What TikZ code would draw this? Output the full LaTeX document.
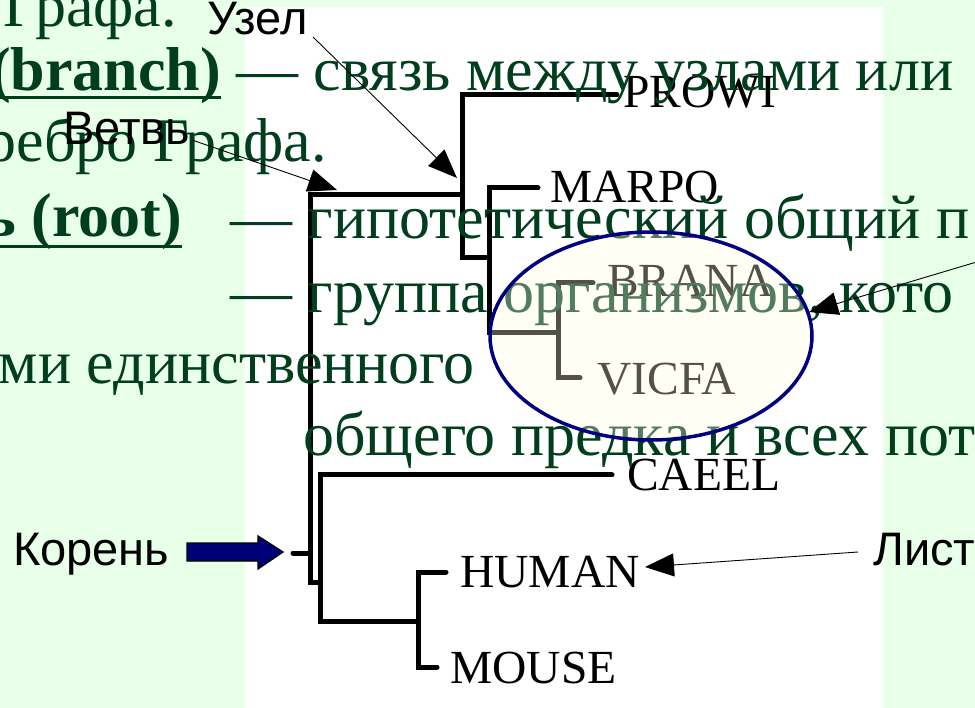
\documentclass[tikz,border=0pt]{standalone}
\usepackage{fontspec}
\setmainfont{Liberation Serif}
\newfontfamily\lblfont{Liberation Sans}
\usetikzlibrary{arrows.meta}
\definecolor{bggreen}{RGB}{232,255,232}
\definecolor{txtgreen}{RGB}{0,62,30}
\definecolor{ellfill}{RGB}{255,255,228}
\definecolor{navyline}{RGB}{0,0,128}
\definecolor{rootblue}{RGB}{0,0,118}
\begin{document}
\begin{tikzpicture}[x=1pt,y=-1pt,
  branchline/.style={line width=5pt, line cap=round, line join=miter},
  leaf/.style={anchor=base west, inner sep=0pt, font=\fontsize{47.5}{50}\selectfont},
  slide/.style={inner sep=0pt, text=txtgreen, font=\fontsize{62}{72}\selectfont},
  underl/.style={draw=txtgreen, line width=3pt},
  callout/.style={inner sep=0pt, anchor=base west, font=\lblfont\fontsize{47}{50}\selectfont},
  pointer/.style={line width=0.9pt, -{Triangle[length=29pt,width=23pt]}},
]
\useasboundingbox (0,0) rectangle (975,708);
\clip (0,0) rectangle (975,708);
\fill[bggreen] (0,0) rectangle (975,708);
\fill[white] (245,7) rectangle (883,708);

% ---- tree corners
\coordinate (kRoot) at (293,553);
\coordinate (kRootJ) at (310,553);
\coordinate (kD) at (462,195);
\coordinate (uTop) at (310,195);
\coordinate (uBot) at (310,582);
\coordinate (kE) at (320,582);
\coordinate (kPW) at (617,95);
\coordinate (kA) at (462,95);
\coordinate (kB) at (462,258);
\coordinate (kC) at (489,258);
\coordinate (kMA) at (538,188);
\coordinate (kK) at (489,188);
\coordinate (kL) at (489,333);
\coordinate (kM) at (558,333);
\coordinate (kBR) at (593,283);
\coordinate (kN) at (558,283);
\coordinate (kO) at (558,378);
\coordinate (kVI) at (580,378);
\coordinate (kCA) at (612,475);
\coordinate (kF) at (320,475);
\coordinate (kG) at (320,621);
\coordinate (kH) at (418,621);
\coordinate (kHU) at (446,572);
\coordinate (kI) at (418,572);
\coordinate (kJ) at (418,667);
\coordinate (kMO) at (437,667);

\draw[branchline] (kRoot) -- (kRootJ);
\draw[branchline] (kD) -- (uTop) -- (uBot) -- (kE);
\draw[branchline] (kPW) -- (kA) -- (kB) -- (kC);
\draw[branchline] (kMA) -- (kK) -- (kL) -- (kM);
\draw[branchline] (kBR) -- (kN) -- (kO) -- (kVI);
\draw[branchline] (kCA) -- (kF) -- (kG) -- (kH);
\draw[branchline] (kHU) -- (kI) -- (kJ) -- (kMO);

% ---- leaf labels
\node[leaf] (prowi) at (623,108) {PROWI};
\node[leaf] (marpo) at (550,203) {MARPO};
\node[leaf] (brana) at (607,297) {BRANA};
\node[leaf] (vicfa) at (597,395) {VICFA};
\node[leaf] (caeel) at (627,490) {CAEEL};
\node[leaf] (human) at (460,587) {HUMAN};
\node[leaf] (mouse) at (450,683) {MOUSE};

% ---- slide text behind
\node[slide, anchor=base east] (t1) at (177,27) {Графа.};
\node[slide, anchor=base east] (t2a) at (221,91) {\textbf{(branch)}};
\node[slide, anchor=base west] (t2b) at (236,91) {— связь между узлами или};
\node[slide, anchor=base east] (t3) at (327,162) {ребро Графа.};
\node[slide, anchor=base east] (t4a) at (182,237) {\textbf{ь (root)}};
\node[slide, anchor=base west] (t4b) at (230,239) {— гипотетический общий п};
\node[slide, anchor=base west] (t5) at (230,313) {— группа организмов, кото};
\node[slide, anchor=base east] (t6) at (475,384) {ми единственного};
\node[slide, anchor=base west] (t7) at (303,456) {общего предка и всех пот};
\draw[underl] (t2a.base west |- 0,98) -- (t2a.base east |- 0,98);
\draw[underl] (t4a.base west |- 0,247) -- (t4a.base east |- 0,247);

% ---- clade ellipse
\coordinate (cladeC) at (651,336);
\draw[navyline, line width=3.5pt, fill=ellfill, fill opacity=0.32]
  (cladeC) ellipse [x radius=161, y radius=104];

% ---- callouts
\node[callout] (uzel) at (207,35) {Узел};
\node[callout] (vetv) at (63,145) {Ветвь};
\node[callout] (koren) at (13,565) {Корень};
\node[callout] (list) at (873,565) {Лист};

\coordinate (uzelFrom) at (313,37);
\coordinate (uzelTip) at (457,178);
\coordinate (vetvFrom) at (192,140);
\coordinate (vetvTip) at (337,190);
\coordinate (cladeFrom) at (990,258);
\coordinate (cladeTip) at (809,312);
\coordinate (listFrom) at (858,552);
\coordinate (listTip) at (645,567);
\draw[pointer] (uzelFrom) -- (uzelTip);
\draw[pointer] (vetvFrom) -- (vetvTip);
\draw[pointer] (cladeFrom) -- (cladeTip);
\draw[pointer] (listFrom) -- (listTip);

% ---- root block arrow
\draw[fill=rootblue, line width=1.3pt, line join=miter]
  (187,543) -- (258,543) -- (258,536) -- (283,552) -- (258,569) -- (258,561) -- (187,561) -- cycle;
\end{tikzpicture}
\end{document}
